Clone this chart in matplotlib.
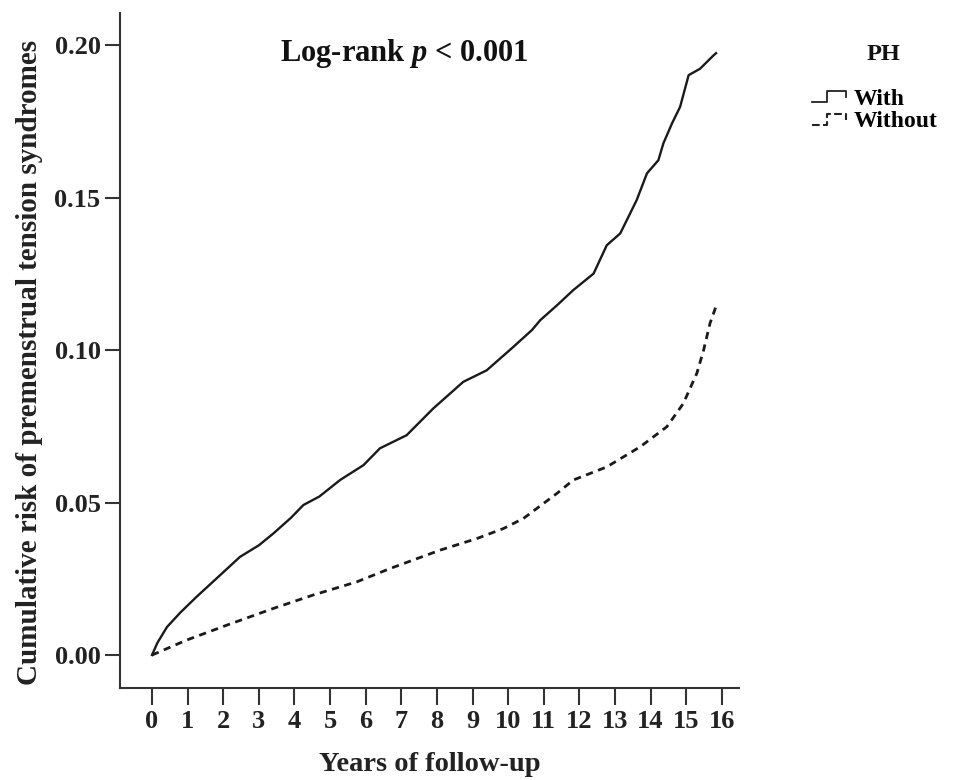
import matplotlib
matplotlib.use("Agg")
import matplotlib.pyplot as plt
from matplotlib.lines import Line2D
from matplotlib.legend_handler import HandlerBase

# cumulative risk (years, risk)
with_x = [0, 0.15, 0.42, 0.8, 1.25, 1.8, 2.47, 3.0, 3.41, 3.9, 4.25, 4.7, 5.28,
          5.94, 6.40, 7.15, 7.90, 8.74, 9.40, 10.15, 10.67, 10.90, 11.4, 11.83,
          12.40, 12.77, 13.15, 13.61, 13.90, 14.22, 14.36, 14.60, 14.83, 15.07,
          15.39, 15.77, 15.84]
with_y = [0, 0.004, 0.0092, 0.014, 0.0191, 0.025, 0.0322, 0.036, 0.0399, 0.045,
          0.0492, 0.052, 0.0574, 0.0623, 0.0678, 0.0721, 0.0809, 0.0896, 0.0934,
          0.1011, 0.1066, 0.1098, 0.115, 0.1197, 0.1251, 0.1344, 0.1383, 0.1492,
          0.158, 0.1623, 0.1678, 0.1743, 0.1798, 0.1902, 0.1923, 0.1967, 0.1974]

without_x = [0, 0.97, 2.10, 3.41, 4.53, 5.75, 6.69, 8.09, 9.12, 9.87, 10.43,
             10.90, 11.37, 11.83, 12.77, 13.71, 14.46, 14.92, 15.30, 15.49,
             15.67, 15.84]
without_y = [0, 0.0049, 0.0098, 0.0153, 0.0197, 0.0240, 0.0284, 0.0344, 0.0382,
             0.0415, 0.0448, 0.0489, 0.0530, 0.0574, 0.0617, 0.0683, 0.0749,
             0.0825, 0.0924, 0.1000, 0.1088, 0.1144]

xticks = list(range(0, 17))
yticks = [0.00, 0.05, 0.10, 0.15, 0.20]
groups = ['With', 'Without']


class StepHandler(HandlerBase):
    # little step-shaped legend key like the SPSS output
    def create_artists(self, legend, orig_handle, xdescent, ydescent,
                       width, height, fontsize, trans):
        x0, y0 = -xdescent, -ydescent
        xs = [x0, x0 + 0.4*width, x0 + 0.4*width, x0 + 0.9*width, x0 + 0.9*width]
        ys = [y0 + 0.15*height, y0 + 0.15*height, y0 + 0.8*height,
              y0 + 0.8*height, y0 + 0.45*height]
        line = Line2D(xs, ys, color=orig_handle.get_color(),
                      lw=orig_handle.get_linewidth(),
                      ls=orig_handle.get_linestyle())
        line.set_transform(trans)
        return [line]


plt.rcParams['font.family'] = ['Liberation Serif', 'DejaVu Serif']
plt.rcParams['font.weight'] = 'bold'
plt.rcParams['mathtext.fontset'] = 'custom'
plt.rcParams['mathtext.it'] = 'Liberation Serif:italic:bold'
plt.rcParams['mathtext.rm'] = 'Liberation Serif:bold'

fig = plt.figure(figsize=(9.6, 7.8), dpi=100)
ax = fig.add_axes([0.125, 0.118, 0.645, 0.865])

ax.plot(with_x, with_y, color='#1a1a1a', lw=1.7, label=groups[0])
ax.plot(without_x, without_y, color='#1a1a1a', lw=2.0, ls=(0, (2.6, 2.0)),
        label=groups[1])

ax.set_xlim(-0.9, 16.49)
ax.set_ylim(-0.0108, 0.2105)
ax.set_xticks(xticks)
ax.set_xticklabels([str(t) for t in xticks])
ax.set_yticks(yticks)
ax.set_yticklabels([f"{t:.2f}" for t in yticks])

for side in ['top', 'right']:
    ax.spines[side].set_visible(False)
for side in ['left', 'bottom']:
    ax.spines[side].set_linewidth(1.5)
    ax.spines[side].set_color('#333333')
ax.tick_params(axis='both', direction='out', width=1.5, color='#333333',
               labelsize=19, labelcolor='#222222')
ax.tick_params(axis='x', length=12, pad=4)
ax.tick_params(axis='y', length=11, pad=3)

ax.set_xlabel('Years of follow-up', fontsize=20.5, fontweight='bold',
              color='#222222', va='center')
ax.xaxis.set_label_coords(0.5, -0.113)
ax.set_ylabel('Cumulative risk of premenstrual tension syndromes', fontsize=21,
              fontweight='bold', color='#222222')
ax.yaxis.set_label_coords(-0.124, 0.483)

ax.text(0.459, 0.94, r'Log-rank $p$ < 0.001', transform=ax.transAxes,
        ha='center', va='center', fontsize=22, fontweight='bold',
        color='#111111')

fig.text(883/960, 1 - 55/780, 'PH', ha='center', va='center', fontsize=17.5,
         fontweight='bold', color='#111111')
handles = [Line2D([], [], color='#222222', lw=1.3),
           Line2D([], [], color='#222222', lw=1.5, ls=(0, (2, 2.5)))]
ax.legend(handles, groups, frameon=False, loc='upper left',
          bbox_to_anchor=(812/960, 1 - 88/780), bbox_transform=fig.transFigure,
          fontsize=17, handlelength=1.6, handletextpad=0.15, labelspacing=0.05,
          borderpad=0.0, borderaxespad=0.0,
          handler_map={Line2D: StepHandler()})

fig.savefig('out.png', dpi=100)
